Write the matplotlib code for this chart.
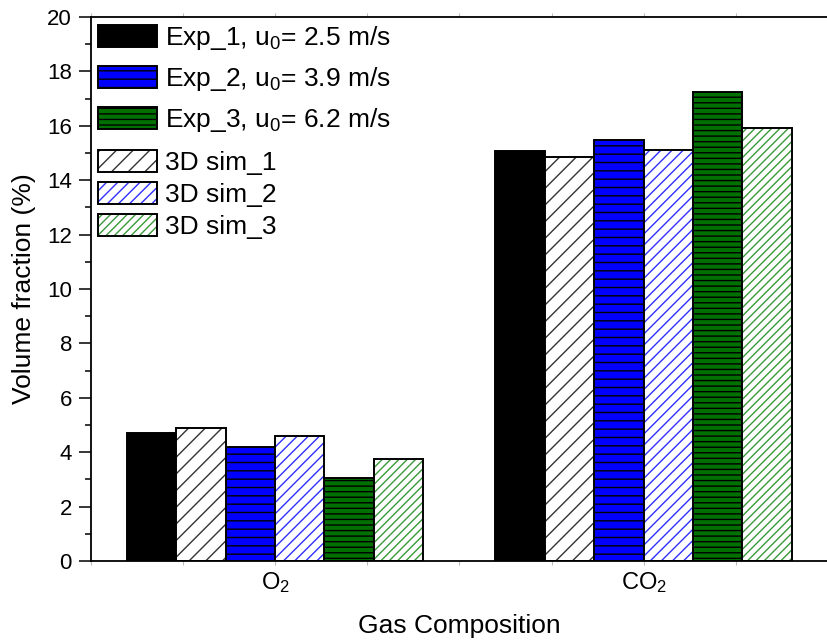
import matplotlib
matplotlib.use("Agg")
from matplotlib import pyplot as plt
from matplotlib.ticker import MultipleLocator
import numpy as np

plt.rcParams['font.family'] = ['Liberation Sans', 'DejaVu Sans']
plt.rcParams['mathtext.fontset'] = 'custom'
plt.rcParams['mathtext.rm'] = 'Liberation Sans'
plt.rcParams['mathtext.it'] = 'Liberation Sans'
plt.rcParams['hatch.linewidth'] = 1.0

gases = ["O$_2$", "CO$_2$"]
labels = ["Exp_1, u$_0$= 2.5 m/s", "3D sim_1",
          "Exp_2, u$_0$= 3.9 m/s", "3D sim_2",
          "Exp_3, u$_0$= 6.2 m/s", "3D sim_3"]
# order of bars within a group: Exp_1, sim_1, Exp_2, sim_2, Exp_3, sim_3
exp1 = [4.69, 15.06]
sim1 = [4.88, 14.85]
exp2 = [4.18, 15.49]
sim2 = [4.60, 15.11]
exp3 = [3.04, 17.25]
sim3 = [3.75, 15.91]

fig = plt.figure(figsize=(8.27, 6.42), dpi=100)
ax = fig.add_axes([0.1097, 0.1262, 0.8915, 0.8474])

x = np.array([1.0, 2.0])
w = 0.134
offs = (np.arange(6) - 2.5) * w

exp_handles = []
# experiments: solid fills with horizontal lines
for i, (vals, fc, hatch) in enumerate([(exp1, 'black', None),
                                        (exp2, '#0000ff', '--'),
                                        (exp3, '#007000', '---')]):
    b = ax.bar(x + offs[2 * i], vals, w, color=fc, edgecolor='black',
               hatch=hatch, linewidth=1.4, zorder=2)
    exp_handles.append(b.patches[0])

sim_handles = []
# simulations: white with coloured diagonal hatch, black outline
for i, (vals, hc, hatch) in enumerate([(sim1, '#333333', '//'),
                                        (sim2, '#3030ff', '///'),
                                        (sim3, '#3a9a3a', '////')]):
    hb = ax.bar(x + offs[2 * i + 1], vals, w, color='white', edgecolor=hc,
                hatch=hatch, linewidth=0, zorder=2)
    ob = ax.bar(x + offs[2 * i + 1], vals, w, fill=False, edgecolor='black',
                linewidth=1.4, zorder=3)
    sim_handles.append((hb.patches[0], ob.patches[0]))

leg_kw = dict(frameon=False, fontsize=19, handlelength=2.25, handleheight=0.9,
              handletextpad=0.3, borderpad=0.0, borderaxespad=0.0)
leg1 = ax.legend(exp_handles, [labels[0], labels[2], labels[4]],
                 loc='upper left', bbox_to_anchor=(0.01, 0.987),
                 labelspacing=0.5, **leg_kw)
ax.add_artist(leg1)
ax.legend(sim_handles, [labels[1], labels[3], labels[5]],
          loc='upper left', bbox_to_anchor=(0.01, 0.756),
          labelspacing=0.27, **leg_kw)

ax.set_xlim(0.5, 2.5)
ax.set_ylim(0, 20)
ax.set_xticks(x)
ax.set_xticklabels(gases, fontsize=17)
ax.xaxis.set_minor_locator(MultipleLocator(0.25))
ax.tick_params(axis='x', which='both', length=3, width=0.8, color='#bbbbbb',
               top=True)
ax.yaxis.set_major_locator(MultipleLocator(2))
ax.yaxis.set_minor_locator(MultipleLocator(1))
ax.tick_params(axis='y', which='major', length=8.5, width=1.1, labelsize=16,
               direction='out', pad=5)
ax.tick_params(axis='y', which='minor', length=4.5, width=1.1, direction='out')

for s in ['left', 'bottom', 'top']:
    ax.spines[s].set_linewidth(1.3)
ax.spines['right'].set_visible(False)

ax.set_xlabel("Gas Composition", fontsize=19, labelpad=14)
ax.set_ylabel("Volume fraction (%)", fontsize=19, labelpad=8)

fig.savefig("out.png", dpi=100)
